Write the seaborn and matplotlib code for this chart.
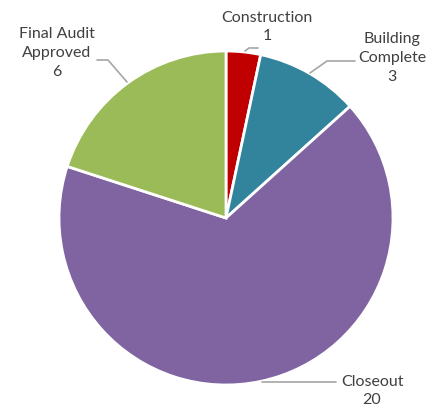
import matplotlib
matplotlib.use("Agg")
import matplotlib.pyplot as plt
import seaborn as sns

# Project status counts
stages = ['Construction', 'Building\nComplete', 'Closeout', 'Final Audit\nApproved']
counts = [1, 3, 20, 6]
colors = ['#C00000', '#31849B', '#8064A2', '#9BBB59']

sns.set_theme(style="white")
plt.rcParams['font.family'] = ['Lato', 'DejaVu Sans']

fig = plt.figure(figsize=(4.41, 4.08), dpi=100)
ax = fig.add_axes([0, 0, 1, 1])

cx, cy, r = 226, 190, 167
ax.pie(counts, colors=colors, startangle=90, counterclock=False,
       center=(cx, cy), radius=r, frame=True,
       wedgeprops=dict(edgecolor='white', linewidth=2))
ax.set_xlim(0, 441)
ax.set_ylim(0, 408)
ax.set_aspect('equal')
ax.axis('off')

# label positions (pixel coords, y from bottom) and leader lines
label_pos = [(267, 381), (392, 350), (372, 17), (57, 355)]
leaders = [
    [(245, 357), (249, 360), (258, 360)],
    [(310, 335), (327, 347), (355, 347)],
    [(262, 26), (336, 26)],
    [(127, 326), (108, 348), (97, 348)],
]
for name, n, (x, y), pts in zip(stages, counts, label_pos, leaders):
    ax.text(x, y, f"{name}\n{n}", ha='center', va='center', fontsize=11.5,
            color='#404040', linespacing=1.45)
    xs, ys = zip(*pts)
    ax.plot(xs, ys, color='#A6A6A6', linewidth=1.2)

fig.savefig("out.png", dpi=100)
